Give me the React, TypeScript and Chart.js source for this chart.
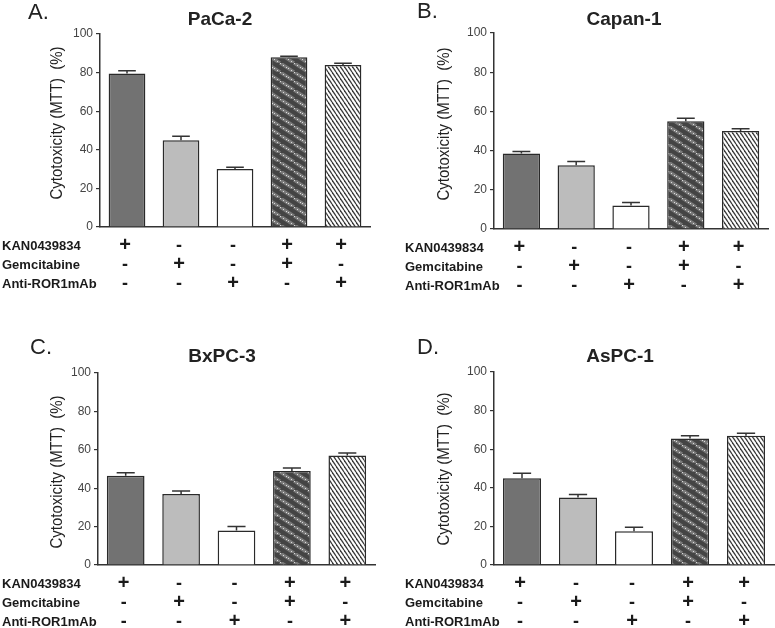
import React, { useEffect, useRef } from "react";
import { Chart, registerables } from "chart.js";

Chart.register(...registerables);

// ---------- data ----------
const categories = ["KAN", "Gem", "ROR1", "KAN+Gem", "KAN+ROR1"];
const rowLabels = ["KAN0439834", "Gemcitabine", "Anti-ROR1mAb"];
const kanRow = ["+", "-", "-", "+", "+"];
const gemRow = ["-", "+", "-", "+", "-"];
const rorRow = ["-", "-", "+", "-", "+"];
const yTickMin = 0;
const yTickMax = 100;
const yTickStep = 20;
const yAxisTitle = "Cytotoxicity (MTT)  (%)";

const pacaValues = [79.5, 45, 30, 88, 84];
const pacaErrors = [1.5, 2, 1, 0.5, 0.8];
const capanValues = [38.5, 32.5, 12, 55, 50];
const capanErrors = [1, 2, 1.5, 1.5, 1.2];
const bxpcValues = [46.5, 37, 18, 49, 57];
const bxpcErrors = [1.5, 1.5, 2, 1.5, 1.3];
const aspcValues = [45, 35, 17.5, 65.5, 67];
const aspcErrors = [2.5, 1.5, 2, 1.5, 1.2];

// ---------- styles / layout ----------
const FONT_SANS = '"Liberation Sans", Arial, sans-serif';
const AXIS_COLOR = "#333333";

type Panel = {
  letter: string;
  title: string;
  values: number[];
  errors: number[];
  canvas: { left: number; top: number; width: number; height: number };
  area: { left: number; right: number; top: number; bottom: number };
  titleX: number;
  titleY: number;
  letterX: number;
  letterY: number;
  labelX: number;
  yTitleX: number;
  yTitleY: number;
};

const panels: Panel[] = [
  {
    letter: "A.", title: "PaCa-2", values: pacaValues, errors: pacaErrors,
    canvas: { left: 0, top: 0, width: 388, height: 310 },
    area: { left: 100, right: 370, top: 34, bottom: 227 },
    titleX: 220, titleY: 25, letterX: 28, letterY: 19, labelX: 2, yTitleX: 57, yTitleY: 123,
  },
  {
    letter: "B.", title: "Capan-1", values: capanValues, errors: capanErrors,
    canvas: { left: 388, top: 0, width: 387, height: 310 },
    area: { left: 494, right: 768, top: 33, bottom: 229 },
    titleX: 624, titleY: 25, letterX: 417, letterY: 18, labelX: 405, yTitleX: 444, yTitleY: 124,
  },
  {
    letter: "C.", title: "BxPC-3", values: bxpcValues, errors: bxpcErrors,
    canvas: { left: 0, top: 310, width: 388, height: 318 },
    area: { left: 98, right: 375, top: 373, bottom: 565 },
    titleX: 222, titleY: 362, letterX: 30, letterY: 354, labelX: 2, yTitleX: 57, yTitleY: 472,
  },
  {
    letter: "D.", title: "AsPC-1", values: aspcValues, errors: aspcErrors,
    canvas: { left: 388, top: 310, width: 387, height: 318 },
    area: { left: 494, right: 774, top: 372, bottom: 565 },
    titleX: 620, titleY: 362, letterX: 417, letterY: 354, labelX: 405, yTitleX: 444, yTitleY: 469,
  },
];

function makeSolidHatch(): CanvasPattern | string {
  const w = 4, h = 6;
  const c = document.createElement("canvas");
  c.width = w; c.height = h;
  const ctx = c.getContext("2d")!;
  ctx.fillStyle = "#ffffff";
  ctx.fillRect(0, 0, w, h);
  ctx.strokeStyle = "#3a3a3a";
  ctx.lineWidth = 1.3;
  for (const dx of [-w, 0, w]) {
    ctx.beginPath();
    ctx.moveTo(dx, 0);
    ctx.lineTo(dx + w, h);
    ctx.stroke();
  }
  return ctx.createPattern(c, "repeat") || "#888";
}

function makeDarkHatch(): CanvasPattern | string {
  const w = 14, h = 9;
  const c = document.createElement("canvas");
  c.width = w; c.height = h;
  const ctx = c.getContext("2d")!;
  ctx.fillStyle = "#444444";
  ctx.fillRect(0, 0, w, h);
  ctx.strokeStyle = "#7a7a7a";
  ctx.lineWidth = 3.5;
  for (const dx of [-w, 0, w]) {
    ctx.beginPath();
    ctx.moveTo(dx, 0);
    ctx.lineTo(dx + w, h);
    ctx.stroke();
  }
  ctx.fillStyle = "#dddddd";
  for (const dx of [-w, 0, w]) {
    for (let t = 0; t < 1; t += 1 / 5) {
      const x = dx + t * w;
      const y = t * h;
      ctx.fillRect(Math.round(x), Math.round(y), 1, 1);
    }
  }
  return ctx.createPattern(c, "repeat") || "#555";
}

function PanelChart({ p }: { p: Panel }) {
  const ref = useRef<HTMLCanvasElement | null>(null);
  useEffect(() => {
    const canvas = ref.current;
    if (!canvas) return;
    const cl = p.canvas.left;
    const ct = p.canvas.top;
    const fills: (CanvasPattern | string)[] = [
      "#727272",
      "#bcbcbc",
      "#ffffff",
      makeDarkHatch(),
      makeSolidHatch(),
    ];

    const decor = {
      id: "decor",
      afterDatasetsDraw(chart: any) {
        const ctx: CanvasRenderingContext2D = chart.ctx;
        const yScale = chart.scales.y;
        const meta = chart.getDatasetMeta(0);
        ctx.save();
        ctx.strokeStyle = AXIS_COLOR;
        ctx.lineWidth = 1.5;
        meta.data.forEach((bar: any, i: number) => {
          const v = p.values[i];
          const e = p.errors[i];
          const yTop = yScale.getPixelForValue(v + e);
          const yVal = yScale.getPixelForValue(v);
          const half = bar.width * 0.24;
          ctx.beginPath();
          ctx.moveTo(bar.x, yVal);
          ctx.lineTo(bar.x, yTop);
          ctx.moveTo(bar.x - half, yTop);
          ctx.lineTo(bar.x + half, yTop);
          ctx.stroke();
        });
        ctx.restore();
      },
      afterDraw(chart: any) {
        const ctx: CanvasRenderingContext2D = chart.ctx;
        const xScale = chart.scales.x;
        const area = chart.chartArea;
        ctx.save();
        // panel letter
        ctx.fillStyle = "#222";
        ctx.font = `22px ${FONT_SANS}`;
        ctx.textAlign = "left";
        ctx.textBaseline = "alphabetic";
        ctx.fillText(p.letter, p.letterX - cl, p.letterY - ct);
        // title
        ctx.font = `bold 19px ${FONT_SANS}`;
        ctx.textAlign = "center";
        ctx.fillText(p.title, p.titleX - cl, p.titleY - ct);
        // y axis title (condensed)
        ctx.save();
        ctx.translate(p.yTitleX - cl, p.yTitleY - ct);
        ctx.rotate(-Math.PI / 2);
        ctx.scale(0.88, 1);
        ctx.font = `17px ${FONT_SANS}`;
        ctx.fillStyle = "#222";
        ctx.textAlign = "center";
        ctx.textBaseline = "middle";
        ctx.fillText(yAxisTitle, 0, 0);
        ctx.restore();
        // condition table
        const rows = [kanRow, gemRow, rorRow];
        const offsets = [19.5, 38.5, 57];
        rows.forEach((row, r) => {
          const y = area.bottom + offsets[r];
          ctx.font = `bold 13px ${FONT_SANS}`;
          ctx.textAlign = "left";
          ctx.textBaseline = "middle";
          ctx.fillStyle = "#1a1a1a";
          ctx.fillText(rowLabels[r], p.labelX - cl, y);
          row.forEach((sym, i) => {
            const x = xScale.getPixelForValue(i) - 2;
            ctx.textAlign = "center";
            if (sym === "+") {
              ctx.font = `bold 20px ${FONT_SANS}`;
              ctx.fillText("+", x, y - 1);
            } else {
              ctx.font = `bold 18px ${FONT_SANS}`;
              ctx.fillText("-", x, y);
            }
          });
        });
        ctx.restore();
      },
    };

    const chart = new Chart(canvas, {
      type: "bar",
      data: {
        labels: categories,
        datasets: [
          {
            data: p.values,
            backgroundColor: fills as any,
            borderColor: "#2a2a2a",
            borderWidth: 1.5,
            categoryPercentage: 1,
            barPercentage: 0.68,
          },
        ],
      },
      options: {
        responsive: false,
        animation: false,
        devicePixelRatio: 1,
        events: [],
        layout: {
          padding: {
            left: 0,
            top: p.area.top - ct,
            right: cl + p.canvas.width - p.area.right,
            bottom: 0,
          },
        },
        plugins: {
          legend: { display: false },
          title: { display: false },
          tooltip: { enabled: false },
        },
        scales: {
          x: {
            grid: { display: false },
            border: { display: true, color: AXIS_COLOR, width: 1.5 },
            ticks: { display: false },
            afterFit: (s: any) => {
              s.height = ct + p.canvas.height - p.area.bottom;
            },
          },
          y: {
            min: yTickMin,
            max: yTickMax,
            ticks: {
              stepSize: yTickStep,
              color: "#444",
              font: { family: FONT_SANS, size: 12 },
              padding: 3,
            },
            grid: {
              drawOnChartArea: false,
              drawTicks: true,
              tickLength: 4,
              color: AXIS_COLOR,
              lineWidth: 1.2,
            },
            border: { display: true, color: AXIS_COLOR, width: 1.5 },
            afterFit: (s: any) => {
              s.width = p.area.left - cl;
            },
          },
        },
      },
      plugins: [decor],
    });
    return () => chart.destroy();
  }, [p]);

  return (
    <canvas
      ref={ref}
      width={p.canvas.width}
      height={p.canvas.height}
      style={{
        position: "absolute",
        left: p.canvas.left,
        top: p.canvas.top,
        width: p.canvas.width,
        height: p.canvas.height,
      }}
    />
  );
}

export default function App() {
  return (
    <div
      style={{
        position: "absolute",
        left: 0,
        top: 0,
        width: 775,
        height: 628,
        background: "#ffffff",
        overflow: "hidden",
      }}
    >
      {panels.map((p) => (
        <PanelChart key={p.letter} p={p} />
      ))}
    </div>
  );
}
